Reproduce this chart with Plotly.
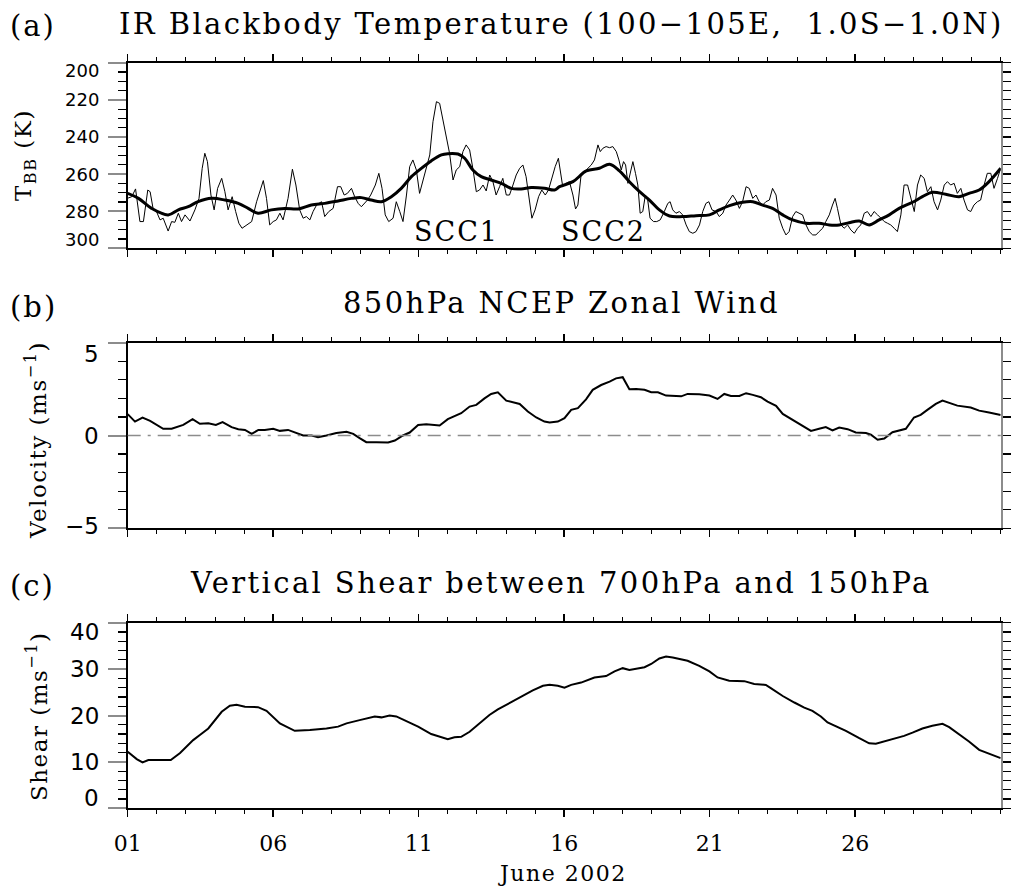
import plotly.graph_objects as go

# ---------------- data ----------------
tbb_raw_day = [1.00,1.14,1.27,1.42,1.54,1.69,1.77,1.88,1.99,2.11,
    2.22,2.39,2.51,2.62,2.74,2.85,2.97,3.14,3.31,3.45,
    3.56,3.65,3.74,3.86,3.97,4.09,4.23,4.34,4.45,4.59,
    4.71,4.82,4.93,5.08,5.26,5.43,5.54,5.66,5.77,5.88,
    6.00,6.11,6.23,6.34,6.51,6.66,6.78,6.91,7.03,7.14,
    7.26,7.37,7.49,7.66,7.77,7.91,8.06,8.21,8.32,8.44,
    8.55,8.69,8.80,8.92,9.03,9.15,9.24,9.35,9.51,9.63,
    9.74,9.85,9.97,10.12,10.23,10.35,10.46,10.58,10.69,10.80,
    10.92,11.03,11.15,11.26,11.38,11.49,11.61,11.72,11.83,11.95,
    12.06,12.18,12.29,12.41,12.52,12.63,12.75,12.86,12.98,13.09,
    13.21,13.32,13.44,13.55,13.66,13.78,13.89,14.01,14.12,14.24,
    14.35,14.47,14.58,14.69,14.81,14.89,15.00,15.12,15.23,15.35,
    15.46,15.58,15.69,15.80,
    15.95,16.07,16.18,16.30,16.39,16.47,16.58,16.70,16.81,16.93,
    17.04,17.16,17.24,17.33,17.44,17.56,17.67,17.79,17.88,17.96,
    18.04,18.11,18.19,18.27,18.36,18.45,18.53,18.61,18.70,18.79,
    18.87,18.95,19.07,19.18,19.30,19.44,19.56,19.64,19.73,19.84,
    19.96,20.07,20.19,20.30,20.42,20.53,20.65,20.76,20.87,20.97,
    21.08,21.22,21.33,21.45,21.56,21.68,21.79,21.90,22.02,22.13,
    22.25,22.36,22.48,22.59,22.70,22.82,22.93,23.05,23.16,23.28,
    23.39,23.51,23.62,23.73,23.85,23.96,24.08,24.19,24.31,24.42,
    24.54,24.65,24.76,24.88,24.99,25.11,25.22,25.31,25.39,25.51,
    25.62,25.74,25.85,25.97,26.08,26.19,26.31,26.42,26.54,26.65,
    26.77,26.88,27.00,27.11,27.22,27.34,27.45,27.57,27.68,27.80,
    27.91,28.03,28.14,28.25,28.37,28.48,28.60,28.71,28.83,28.94,
    29.06,29.17,29.28,29.40,29.51,29.63,29.74,29.86,29.97,30.08,
    30.20,30.31,30.43,30.54,30.66,30.77,30.89,31.00]
tbb_raw = [273.0,272.2,268.0,285.6,285.6,268.6,269.5,279.3,280.2,284.7,
    283.8,290.7,285.6,286.0,281.1,285.6,282.0,285.3,279.3,273.1,
    256.9,248.8,253.3,271.3,279.3,267.7,262.3,269.5,279.3,272.2,
    280.2,286.5,289.2,287.4,285.6,274.9,269.5,263.5,273.1,287.4,
    285.6,284.7,281.1,284.7,273.1,257.4,265.9,279.3,283.8,282.9,
    284.7,280.2,276.7,274.9,282.9,280.2,278.5,266.8,266.8,271.3,
    270.4,267.7,272.2,275.8,277.6,275.8,274.0,271.3,265.9,259.6,
    267.7,282.0,285.6,283.8,274.9,280.2,285.6,271.3,256.0,252.4,
    257.8,270.4,263.2,257.8,249.7,231.8,221.0,221.9,230.0,238.9,
    248.8,263.2,257.8,256.0,247.9,244.3,247.0,256.9,269.5,268.6,
    265.9,269.1,260.5,264.1,271.3,266.8,262.3,271.3,271.3,265.9,
    260.5,256.9,255.1,261.4,274.9,283.8,279.3,272.2,268.6,271.3,
    268.6,261.4,256.0,251.5,
    266.8,265.0,264.1,271.3,278.8,276.7,260.5,258.7,256.9,255.1,
    252.4,244.3,247.9,246.1,245.2,245.8,245.2,247.9,252.4,257.8,
    253.3,255.1,265.0,258.7,253.3,259.6,265.9,281.1,280.2,271.3,
    274.0,283.8,285.6,285.6,284.7,280.2,275.8,274.9,279.3,281.1,
    280.2,282.0,287.4,291.0,291.9,291.0,287.4,280.2,275.8,274.9,
    279.3,280.2,282.9,281.1,276.7,274.0,271.3,274.0,278.5,274.9,
    266.8,267.7,273.1,271.3,274.9,276.7,274.9,274.0,267.7,271.3,
    283.8,289.2,292.8,291.0,282.9,280.2,281.1,282.0,287.4,291.0,
    292.8,292.8,291.0,289.2,285.6,282.0,276.7,273.1,278.5,287.4,
    289.2,287.4,290.1,291.9,289.2,287.4,281.1,280.2,282.9,280.2,
    282.0,283.8,285.6,286.5,287.4,289.2,291.0,282.0,265.9,265.9,
    273.1,280.2,265.9,260.5,262.3,269.5,266.8,274.9,279.3,274.0,
    265.9,264.1,265.9,265.0,270.4,267.7,274.0,279.3,280.2,276.7,
    274.9,274.0,265.9,259.6,259.6,267.7,262.3,256.9]

tbb_smooth_day = [1.0,1.37,1.82,2.39,2.74,3.08,3.42,3.88,4.34,4.80,
    5.14,5.48,5.94,6.40,6.86,7.31,7.77,8.23,8.69,9.03,
    9.37,9.72,10.06,10.40,10.75,11.09,11.43,11.78,12.00,12.35,
    12.58,12.86,13.15,13.49,13.84,14.18,14.52,14.87,15.32,15.67,
    15.84,16.30,16.76,17.21,17.56,17.90,18.24,18.59,18.93,19.27,
    19.62,20.07,20.53,20.99,21.33,21.68,22.13,22.48,22.82,23.16,
    23.51,23.85,24.31,24.76,25.11,25.45,25.79,26.14,26.48,26.82,
    27.17,27.51,27.97,28.31,28.65,29.11,29.57,29.91,30.26,30.60,31.0]
tbb_smooth = [270.4,273.1,278.5,282.0,279.3,277.6,274.9,273.1,274.0,275.8,
    278.5,281.1,279.3,278.5,278.8,276.7,275.8,274.5,273.1,272.7,
    274.0,274.9,272.2,267.7,261.4,256.9,252.9,249.7,249.0,249.2,
    251.5,257.8,261.4,263.2,265.0,267.7,268.0,267.3,267.7,268.6,
    266.8,264.1,258.3,256.9,254.7,258.3,264.1,269.5,274.0,279.3,
    282.6,282.9,282.4,282.0,279.3,277.0,275.2,274.9,276.7,278.5,
    282.0,284.7,286.5,286.5,287.4,287.4,286.2,285.3,287.4,284.7,
    282.0,278.5,275.2,272.2,269.8,270.9,272.2,270.4,268.6,264.1,256.9]

u850_day = [1.0,1.25,1.51,1.77,2.22,2.51,2.91,3.23,3.48,3.77,
    4.03,4.26,4.57,4.80,5.03,5.26,5.49,5.71,6.0,6.23,
    6.51,6.74,7.03,7.32,7.54,7.83,8.17,8.52,8.75,8.97,
    9.2,9.55,9.95,10.18,10.46,10.69,10.98,11.26,11.72,12.0,
    12.29,12.46,12.75,12.98,13.26,13.49,13.72,14.01,14.47,14.75,
    15.04,15.32,15.5,15.78,16.01,16.24,16.47,16.75,16.98,17.27,
    17.56,17.78,18.01,18.24,18.47,18.76,18.99,19.22,19.5,20.02,
    20.24,20.64,20.99,21.27,21.5,21.73,22.02,22.25,22.48,22.76,
    22.99,23.28,23.51,23.85,24.19,24.48,24.76,24.99,25.22,25.45,
    25.74,26.02,26.37,26.54,26.77,27.0,27.28,27.74,28.02,28.25,
    28.48,28.77,29.0,29.51,29.97,30.26,30.6,31.0]
u850 = [1.15,0.75,0.97,0.79,0.36,0.36,0.57,0.88,0.63,0.66,
    0.57,0.72,0.45,0.34,0.30,0.09,0.30,0.30,0.36,0.25,
    0.30,0.16,0.0,0.0,-0.09,0.0,0.13,0.2,0.09,-0.14,
    -0.36,-0.36,-0.38,-0.27,0.0,0.16,0.57,0.61,0.54,0.88,
    1.11,1.2,1.56,1.65,2.0,2.24,2.33,1.88,1.70,1.29,
    0.97,0.75,0.70,0.75,0.93,1.38,1.47,1.95,2.46,2.72,
    2.9,3.08,3.14,2.49,2.51,2.46,2.33,2.33,2.15,2.11,
    2.24,2.22,2.15,1.97,2.24,2.13,2.13,2.28,2.19,2.06,
    1.83,1.6,1.16,0.84,0.54,0.25,0.36,0.45,0.27,0.43,
    0.34,0.16,0.13,0.04,-0.23,-0.16,0.18,0.36,0.97,1.11,
    1.38,1.70,1.88,1.61,1.51,1.34,1.24,1.11]

shear_day = [1.0,1.31,1.51,1.71,2.0,2.48,2.8,3.25,3.48,3.77,
    4.23,4.51,4.74,5.03,5.48,5.77,6.23,6.74,7.26,7.83,
    8.23,8.52,8.97,9.49,9.72,10.0,10.23,10.58,10.98,11.43,
    12.0,12.23,12.46,12.75,13.09,13.43,13.72,14.01,14.29,14.58,
    14.92,15.27,15.5,15.78,16.01,16.24,16.58,17.04,17.44,17.73,
    18.01,18.24,18.76,18.99,19.27,19.5,19.73,20.24,20.64,20.99,
    21.27,21.67,22.19,22.53,22.93,23.1,23.51,23.91,24.25,24.53,
    24.82,25.05,25.28,25.68,26.14,26.48,26.71,27.05,27.34,27.68,
    27.97,28.31,28.65,29.0,29.23,29.51,29.91,30.26,30.54,31.0]
shear = [12.2,10.6,9.9,10.4,10.4,10.4,11.9,14.7,15.8,17.2,
    20.8,22.1,22.3,21.9,21.8,21.0,18.3,16.7,16.9,17.2,
    17.6,18.3,19.0,19.8,19.6,20.0,19.8,18.7,17.6,16.0,
    14.9,15.3,15.4,16.5,18.3,20.1,21.3,22.3,23.3,24.4,
    25.4,26.4,26.6,26.4,26.0,26.6,27.1,28.2,28.5,29.5,
    30.2,29.8,30.4,31.1,32.3,32.7,32.5,31.8,30.7,29.5,
    28.2,27.5,27.4,26.8,26.6,25.9,24.2,22.8,21.7,21.0,
    19.8,18.5,17.8,16.7,15.1,14.0,13.9,14.5,14.9,15.6,
    16.3,17.2,17.8,18.2,17.5,16.3,14.4,12.6,11.9,10.8]

day_ticks = [1, 6, 11, 16, 21, 26]
day_labels = ["01", "06", "11", "16", "21", "26"]
tbb_ticks = [200, 220, 240, 260, 280, 300]
u_ticks = [5, 0, -5]
shear_ticks = [40, 30, 20, 10, 0]

titles = ["IR Blackbody Temperature (100\u2212105E,  1.0S\u22121.0N)",
          "850hPa NCEP Zonal Wind",
          "Vertical Shear between 700hPa and 150hPa"]
panel_tags = ["(a)", "(b)", "(c)"]
ytitles = ["T<sub>BB</sub> (K)", "Velocity (ms<sup>\u22121</sup>)", "Shear (ms<sup>\u22121</sup>)"]
xlabel = "June 2002"
scc_labels = ["SCC1", "SCC2"]
scc_day = [12.3, 17.35]
scc_tbb = [290.7, 290.7]

# ---------------- layout helpers ----------------
W, H = 1011, 886
SERIF = "DejaVu Serif"
SANS = "DejaVu Sans"


def px(x):
    return x / W


def py(y):
    return 1 - y / H


def spaced(t, sp):
    return '<span style="letter-spacing:%spx">%s</span>' % (sp, t)


XDOM = [px(127.7), px(1000.7)]
YDOMS = [[py(248.3), py(62.7)], [py(528.3), py(342.7)], [py(808.3), py(622.7)]]

fig = go.Figure()

BLACK = "black"
GRAY = "#8c8c8c"

fig.add_trace(go.Scatter(x=tbb_raw_day, y=tbb_raw, mode="lines",
                         line=dict(color=BLACK, width=1), xaxis="x", yaxis="y",
                         showlegend=False, hoverinfo="skip"))
fig.add_trace(go.Scatter(x=tbb_smooth_day, y=tbb_smooth, mode="lines",
                         line=dict(color=BLACK, width=3, shape="spline"), xaxis="x", yaxis="y",
                         showlegend=False, hoverinfo="skip"))
fig.add_trace(go.Scatter(x=u850_day, y=u850, mode="lines",
                         line=dict(color=BLACK, width=2), xaxis="x2", yaxis="y2",
                         showlegend=False, hoverinfo="skip"))
fig.add_trace(go.Scatter(x=shear_day, y=shear, mode="lines",
                         line=dict(color=BLACK, width=2), xaxis="x3", yaxis="y3",
                         showlegend=False, hoverinfo="skip"))
# empty traces for right-side mirror axes
for xa, ya in [("x", "y4"), ("x2", "y5"), ("x3", "y6")]:
    fig.add_trace(go.Scatter(x=[], y=[], xaxis=xa, yaxis=ya, showlegend=False))


def xaxis_cfg(anchor, labels):
    return dict(domain=XDOM, anchor=anchor, range=[1, 31], automargin=False,
                tickmode="array", tickvals=day_ticks, ticktext=day_labels,
                ticks="outside", ticklen=7, tickwidth=1.5, tickcolor=BLACK,
                minor=dict(dtick=1, tick0=1, ticks="outside", ticklen=4,
                           tickwidth=1, tickcolor=BLACK, showgrid=False),
                mirror="ticks", showline=True, linecolor=BLACK, linewidth=1.5,
                showgrid=False, zeroline=False, showticklabels=labels,
                tickfont=dict(family=SERIF, size=22, color=BLACK),
                ticklabelstandoff=8)


def yaxis_cfg(anchor, dom, rng, dtick, mdtick, tick0):
    return dict(domain=dom, anchor=anchor, range=rng, tick0=tick0, dtick=dtick,
                automargin=False,
                ticks="outside", ticklen=18, tickwidth=2, tickcolor=GRAY,
                minor=dict(dtick=mdtick, tick0=tick0, ticks="outside", ticklen=8,
                           tickwidth=1.2, tickcolor=BLACK, showgrid=False),
                showline=True, linecolor=BLACK, linewidth=1.5,
                showgrid=False, zeroline=False, showticklabels=False)


def yright_cfg(anchor, over, rng, dtick, tick0):
    return dict(overlaying=over, anchor=anchor, side="right", range=rng,
                automargin=False,
                tick0=tick0, dtick=dtick, ticks="outside", ticklen=8,
                tickwidth=1.2, tickcolor=BLACK, showline=True, linecolor=GRAY,
                linewidth=2.5, showgrid=False, zeroline=False, showticklabels=False)


fig.update_layout(
    template="none",
    width=W, height=H, autosize=False,
    margin=dict(l=0, r=0, t=0, b=0, pad=0),
    paper_bgcolor="white", plot_bgcolor="white",
    xaxis=xaxis_cfg("y", False),
    xaxis2=xaxis_cfg("y2", False),
    xaxis3=xaxis_cfg("y3", True),
    yaxis=yaxis_cfg("x", YDOMS[0], [300, 200], 20, 5, 200),
    yaxis2=yaxis_cfg("x2", YDOMS[1], [-5, 5], 5, 1, 0),
    yaxis3=yaxis_cfg("x3", YDOMS[2], [0, 40], 10, 2, 0),
    yaxis4=yright_cfg("x", "y", [300, 200], 5, 200),
    yaxis5=yright_cfg("x2", "y2", [-5, 5], 1, 0),
    yaxis6=yright_cfg("x3", "y3", [0, 40], 2, 0),
)

# zero reference line in panel (b)
fig.add_shape(type="line", xref="x2 domain", x0=0, x1=1, yref="y2", y0=0, y1=0,
              line=dict(color=GRAY, width=1.5, dash="13px,7px,3px,7px"))

ann = []
# titles and panel tags
title_y = [24, 303, 583]
tag_y = [26, 307, 586]
for i in range(3):
    ann.append(dict(text=spaced(titles[i], 2.4), x=px(561), y=py(title_y[i]),
                    xref="paper", yref="paper",
                    xanchor="center", yanchor="middle", showarrow=False,
                    font=dict(family=SERIF, size=29, color=BLACK)))
    ann.append(dict(text=spaced(panel_tags[i], 2), x=px(8), y=py(tag_y[i]),
                    xref="paper", yref="paper",
                    xanchor="left", yanchor="middle", showarrow=False,
                    font=dict(family=SERIF, size=29, color=BLACK)))

# y axis titles
ytitle_pos = [(25, 155), (36, 440), (37, 716)]
for t, (xx, yy) in zip(ytitles, ytitle_pos):
    ann.append(dict(text=spaced(t, 1.5), x=px(xx), y=py(yy), xref="paper", yref="paper",
                    xanchor="center", yanchor="middle", textangle=-90, showarrow=False,
                    font=dict(family=SERIF, size=23, color=BLACK)))


# y tick labels (end labels nudged inward as in the reference)
def add_ylabels(vals, yref, shifts, size):
    for v, s in zip(vals, shifts):
        ann.append(dict(text=str(v).replace("-", "\u2212"), x=px(101), y=v,
                        xref="paper", yref=yref,
                        xanchor="right", yanchor="middle", yshift=s, showarrow=False,
                        font=dict(family=SANS, size=size, color=BLACK)))


add_ylabels(tbb_ticks, "y", [-8, 0, 0, 0, 0, 9], 18)
add_ylabels(u_ticks, "y2", [-11, 0, 2], 23)
add_ylabels(shear_ticks, "y3", [-9, 0, 0, 0, 10], 23)

# SCC labels
for lab, d, t in zip(scc_labels, scc_day, scc_tbb):
    ann.append(dict(text=spaced(lab, 2), x=d, y=t, xref="x", yref="y",
                    xanchor="center", yanchor="middle",
                    showarrow=False, font=dict(family=SERIF, size=27, color=BLACK)))

# x label
ann.append(dict(text=spaced(xlabel, 1.5), x=px(562), y=py(873), xref="paper", yref="paper",
                xanchor="center", yanchor="middle", showarrow=False,
                font=dict(family=SERIF, size=22, color=BLACK)))

fig.update_layout(annotations=ann)

# remove the browser's default 8px page margin so the figure fills the window exactly
fig.write_html("out.html",
               config={"displayModeBar": False, "staticPlot": True},
               post_script="document.body.style.margin='0px';document.body.style.overflow='hidden';")
